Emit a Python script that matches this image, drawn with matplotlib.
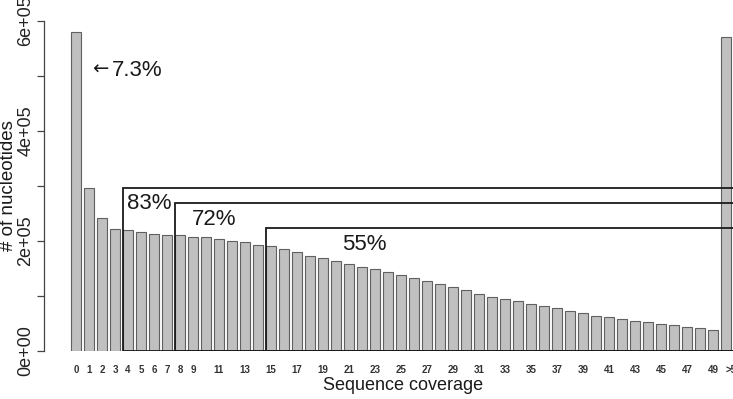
import matplotlib
matplotlib.use("Agg")
import matplotlib.pyplot as plt
from matplotlib.patches import Rectangle

plt.rcParams['font.family'] = ['Liberation Sans', 'DejaVu Sans']

# coverage categories and nucleotide counts
coverage = [str(i) for i in range(50)] + ['>50']
counts = [5.80, 2.95, 2.41, 2.21, 2.19, 2.16, 2.13, 2.11, 2.10, 2.07,
          2.07, 2.03, 1.99, 1.98, 1.93, 1.90, 1.85, 1.79, 1.73, 1.68,
          1.63, 1.58, 1.52, 1.48, 1.43, 1.37, 1.32, 1.26, 1.21, 1.15,
          1.10, 1.04, 0.98, 0.94, 0.90, 0.85, 0.81, 0.78, 0.73, 0.68,
          0.64, 0.62, 0.58, 0.54, 0.52, 0.49, 0.46, 0.43, 0.41, 0.38,
          5.70]
counts = [c * 1e5 for c in counts]

# labels R managed to print under the bars
shown_labels = [str(i) for i in range(10)] + [str(i) for i in range(11, 50, 2)] + ['>50']

# coverage brackets: start category, box height, label, label position
bracket_start = [4, 8, 15]
bracket_height = [2.95e5, 2.68e5, 2.23e5]
bracket_text = ['83%', '72%', '55%']
bracket_text_x = [3.92, 8.92, 20.46]
bracket_text_y = [2.68e5, 2.39e5, 1.94e5]

zero_text = '7.3%'

W, H = 733, 399
fig = plt.figure(figsize=(W / 100, H / 100), dpi=100)
ax = fig.add_axes([44 / W, (H - 350.7) / H, (W - 44) / W, 350.7 / H])

xpos = list(range(len(coverage)))
bw = 0.83
ax.bar(xpos, counts, width=bw, color='#c0c0c0', edgecolor='#606060',
       linewidth=0.8, zorder=2)

for start, h in zip(bracket_start, bracket_height):
    ax.add_patch(Rectangle((start - bw / 2, 0), 60, h, fill=False,
                           edgecolor='#1a1a1a', linewidth=1.3, zorder=3))

for t, tx, ty in zip(bracket_text, bracket_text_x, bracket_text_y):
    ax.text(tx, ty, t, fontsize=16, va='center', ha='left', color='#1a1a1a', zorder=4)

# arrow pointing at the zero-coverage bar, then its share
ax.text(1.23, 5.12e5, '\u2190', fontsize=14, va='center', ha='left',
        color='#1a1a1a', family='DejaVu Sans')
ax.text(2.75, 5.1e5, zero_text, fontsize=16, va='center', ha='left', color='#1a1a1a')

ax.set_xlim(-2.46, 50.54)
ax.set_ylim(0, 350.7 / 55 * 1e5)

for s in ['top', 'right', 'bottom']:
    ax.spines[s].set_visible(False)
ax.spines['left'].set_bounds(0, 6e5)
ax.spines['left'].set_color('#444444')
ax.spines['left'].set_linewidth(0.9)

ax.set_yticks([0, 2e5, 4e5, 6e5])
ax.set_yticklabels(['0e+00', '2e+05', '4e+05', '6e+05'], rotation=90, va='center',
                   fontsize=13, color='#222222')
ax.set_yticks([1e5, 3e5, 5e5], minor=True)
ax.tick_params(axis='y', which='both', length=5, width=0.9, color='#444444', pad=2)

tick_pos = [coverage.index(l) for l in shown_labels]
ax.set_xticks(tick_pos)
ax.set_xticklabels(shown_labels, fontsize=7, color='#333333', fontweight='bold')
ax.tick_params(axis='x', length=0, pad=10)
last = ax.get_xticklabels()[-1]
last.set_horizontalalignment('left')
last.set_x(49.95)

fig.text(403.5 / W, 1 - 385 / H, 'Sequence coverage', fontsize=13, ha='center',
         va='center', color='#1a1a1a')
fig.text(9 / W, 1 - 186 / H, '# of nucleotides', fontsize=13.5, ha='center',
         va='center', rotation=90, color='#1a1a1a')

fig.savefig('out.png', dpi=100)
